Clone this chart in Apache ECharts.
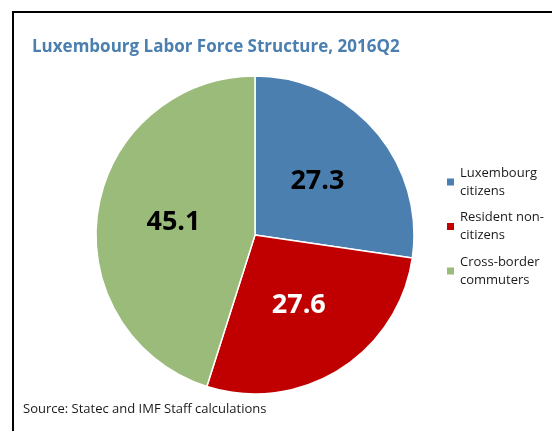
<!DOCTYPE html>
<html>
<head>
<meta charset="utf-8">
<script src="https://cdn.jsdelivr.net/npm/echarts@6/dist/echarts.min.js"></script>
<style>
  html, body { margin: 0; padding: 0; background: #fff; }
  #chart { width: 552px; height: 431px; }
</style>
</head>
<body>
<div id="chart"></div>
<script>
const categories = ['Luxembourg\ncitizens', 'Resident non-\ncitizens', 'Cross-border\ncommuters'];
const shares = [27.3, 27.6, 45.1];
const sliceColors = ['#4a7fb0', '#c00000', '#9bbb7b'];
const labelColors = ['#000', '#fff', '#000'];

const chart = echarts.init(document.getElementById('chart'));

chart.setOption({
  backgroundColor: '#fff',
  animation: false,
  title: [
    {
      text: 'Luxembourg Labor Force Structure, 2016Q2',
      left: 32,
      top: 39,
      padding: 0,
      textStyle: { fontFamily: 'Open Sans', fontWeight: 'bold', fontSize: 17, color: '#4a7fb0' }
    },
    {
      text: 'Source: Statec and IMF Staff calculations',
      left: 23,
      top: 403,
      padding: 0,
      textStyle: { fontFamily: 'Open Sans', fontWeight: 'normal', fontSize: 13, color: '#1a1a1a' }
    }
  ],
  legend: {
    orient: 'vertical',
    left: 445,
    top: 155,
    padding: 0,
    itemWidth: 9,
    itemHeight: 9,
    itemGap: -9.5,
    icon: 'rect',
    selectedMode: false,
    textStyle: {
      fontFamily: 'Open Sans',
      fontSize: 13,
      color: '#1a1a1a',
      lineHeight: 18,
      padding: [18, 0, 0, 0]
    }
  },
  graphic: [
    { type: 'line', shape: { x1: 13, y1: 12, x2: 13, y2: 431 }, style: { stroke: '#000', lineWidth: 2 } },
    { type: 'line', shape: { x1: 12, y1: 12, x2: 552, y2: 12 }, style: { stroke: '#000', lineWidth: 2 } }
  ],
  series: [
    {
      type: 'pie',
      center: [255, 235],
      radius: [0, 159],
      startAngle: 90,
      clockwise: true,
      itemStyle: { borderColor: '#fff', borderWidth: 1.5 },
      label: {
        show: true,
        position: 'inside',
        fontFamily: 'Open Sans',
        fontWeight: 'bold',
        fontSize: 27,
        formatter: (p) => p.value.toFixed(1)
      },
      labelLine: { show: false },
      emphasis: { disabled: true },
      data: categories.map((name, i) => ({
        name,
        value: shares[i],
        itemStyle: { color: sliceColors[i] },
        label: { color: labelColors[i] }
      }))
    }
  ]
});
</script>
</body>
</html>
